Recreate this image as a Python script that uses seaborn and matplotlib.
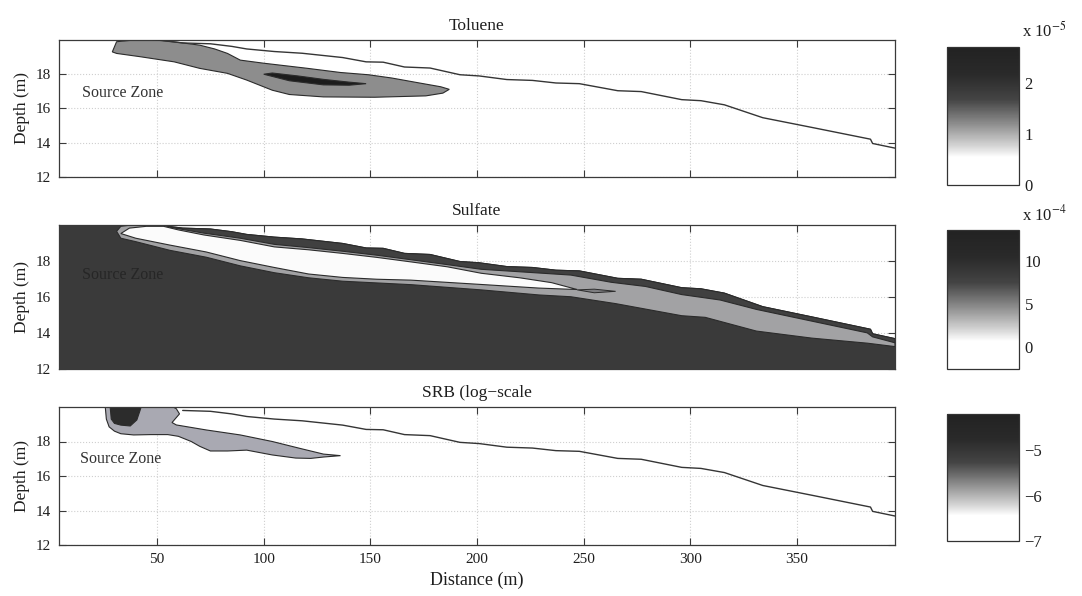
import numpy as np
import matplotlib
matplotlib.use("Agg")
import matplotlib.pyplot as plt
import seaborn as sns
from matplotlib.colors import LinearSegmentedColormap, Normalize
from matplotlib.cm import ScalarMappable

sns.set_theme(style="ticks")
plt.rcParams['font.family'] = ['Liberation Serif', 'DejaVu Serif']
plt.rcParams['mathtext.fontset'] = 'stix'

# ---------------- data (distance in m, depth in m) ----------------
panel_titles = ["Toluene", "Sulfate", "SRB (log\u2212scale"]
x_ticks = [50, 100, 150, 200, 250, 300, 350]
y_ticks = [12, 14, 16, 18]

# water table line
wt_x = [48, 55, 62, 75, 85, 92, 105, 118, 137, 148, 156, 166, 178, 192, 201, 214, 226,
        237, 248, 266, 277, 296, 305, 316, 334, 358, 384.5, 385.5, 396]
wt_d = [20.0, 19.9, 19.8, 19.75, 19.6, 19.45, 19.3, 19.2, 18.95, 18.7, 18.68, 18.4, 18.34,
        17.95, 17.88, 17.67, 17.62, 17.47, 17.43, 17.02, 16.97, 16.5, 16.44, 16.2, 15.45,
        14.86, 14.2, 13.95, 13.68]

# Toluene plume (outer contour) : upper and lower edges
tol_top_x = [29, 31, 40, 52, 62, 70, 77, 83, 89, 100, 120, 136, 149, 160, 173, 183, 187]
tol_top_d = [19.28, 19.87, 19.98, 19.95, 19.8, 19.67, 19.45, 19.19, 18.8, 18.62, 18.33,
             18.08, 17.95, 17.76, 17.47, 17.25, 17.1]
tol_bot_x = [29, 31, 42, 58, 70, 83, 92, 104, 112, 128, 152, 176, 184, 187]
tol_bot_d = [19.28, 19.19, 19.0, 18.7, 18.32, 18.03, 17.64, 17.05, 16.8, 16.66, 16.64,
             16.72, 16.88, 17.1]
# Toluene core
tolc_top_x = [100, 104, 116, 128, 140, 148]
tolc_top_d = [17.98, 18.05, 17.88, 17.68, 17.52, 17.43]
tolc_bot_x = [100, 112, 128, 140, 148]
tolc_bot_d = [17.98, 17.6, 17.36, 17.34, 17.43]

# Sulfate: light-gray band lower edge
sg_bot_x = [31, 33, 40, 56, 73, 89, 105, 121, 137, 169, 202, 229, 244, 265, 296, 307,
            331, 357, 383, 396]
sg_bot_d = [19.62, 19.24, 19.05, 18.57, 18.19, 17.71, 17.33, 17.05, 16.86, 16.67, 16.38,
            16.1, 16.0, 15.62, 14.95, 14.86, 14.1, 13.71, 13.43, 13.24]
# Sulfate: dark band below the water table (lower edge)
sb_bot_x = [56, 72, 89, 105, 121, 137, 153, 169, 186, 202, 227, 244, 263, 279, 296, 314,
            331, 357, 383, 385.5, 396]
sb_bot_d = [19.85, 19.52, 19.24, 18.9, 18.72, 18.52, 18.3, 18.05, 17.78, 17.52, 17.33,
            17.2, 16.8, 16.57, 16.12, 15.82, 15.3, 14.65, 14.0, 13.78, 13.45]
# Sulfate: depleted (white) zone
sw_top_x = [33, 37, 45, 53, 60, 72, 89, 105, 121, 137, 153, 169, 186, 202, 220, 235, 247]
sw_top_d = [19.5, 19.8, 19.9, 19.9, 19.7, 19.42, 19.12, 18.76, 18.6, 18.4, 18.18, 17.93,
            17.66, 17.3, 17.05, 16.78, 16.4]
sw_bot_x = [33, 40, 56, 73, 89, 105, 121, 137, 153, 169, 202, 229, 247]
sw_bot_d = [19.5, 19.24, 18.86, 18.48, 18.0, 17.62, 17.26, 17.07, 16.97, 16.92, 16.68,
            16.48, 16.4]
# small sliver at the tip
ss_x = [247, 255, 265, 255, 247]
ss_d = [16.38, 16.42, 16.3, 16.22, 16.38]

# SRB plume outer contour (closed outline)
srb_x = [25.7, 26.2, 27.5, 30, 33, 39, 47, 55, 60, 66, 70, 75, 83, 92, 104, 115, 122, 128,
         136, 128, 122, 117, 104, 89, 73, 59, 57, 60.5, 59, 57.5]
srb_d = [20.0, 19.3, 18.85, 18.6, 18.45, 18.38, 18.4, 18.4, 18.3, 18.0, 17.72, 17.45,
         17.45, 17.5, 17.22, 17.04, 17.02, 17.1, 17.18, 17.27, 17.45, 17.6, 18.0, 18.38,
         18.67, 18.96, 19.1, 19.6, 19.9, 20.0]
# SRB core
srbc_x = [28, 28.5, 30, 33, 37.4, 40.5, 42, 42.5]
srbc_d = [20.0, 19.3, 19.05, 18.95, 18.9, 19.25, 19.8, 20.0]

# colorbar ranges and ticks
cb_ranges = [(0, 2.7), (-2.5, 13.6), (-7, -4.2)]
cb_ticks = [[0, 1, 2], [0, 5, 10], [-7, -6, -5]]
cb_mult = [r"x 10$^{-5}$", r"x 10$^{-4}$", None]

src_label = "Source Zone"
src_pos = [(15, 16.9), (15, 17.2), (14, 17.0)]

# ---------------- styling ----------------
XLIM = (4, 396)
YLIM = (12, 20)
EDGE = '#2b2b2b'
TXT = '#1e1e1e'

fig = plt.figure(figsize=(10.82, 5.96), dpi=100)
W, H = 1082.0, 596.0
def rect(l, t, r, b):
    return [l / W, 1 - b / H, (r - l) / W, (b - t) / H]

ax_rects = [rect(59, 39.5, 895, 177), rect(59, 224.5, 895, 369), rect(59, 407, 895, 545)]
cb_rects = [rect(947, 47, 1019, 185), rect(947, 230, 1019, 369), rect(947, 414, 1019, 541)]

cmap = LinearSegmentedColormap.from_list(
    "scan", [(0, '#ffffff'), (0.2, '#ffffff'), (0.28, '#d6d6d6'), (0.45, '#8a8a8a'),
             (0.62, '#444444'), (0.8, '#2a2a2a'), (1.0, '#222222')])

def poly(ax, xs_top, ds_top, xs_bot, ds_bot, fc, lw=0.8):
    xs = list(xs_top) + list(xs_bot)[::-1]
    ds = list(ds_top) + list(ds_bot)[::-1]
    ax.fill(xs, ds, facecolor=fc, edgecolor=EDGE, linewidth=lw, zorder=2)

axes = []
for i, r in enumerate(ax_rects):
    ax = fig.add_axes(r)
    axes.append(ax)
    ax.set_xlim(*XLIM)
    ax.set_ylim(*YLIM)
    ax.set_xticks(x_ticks)
    ax.set_yticks(y_ticks)
    ax.grid(True, linestyle=':', color='#cfcfcf', linewidth=0.8)
    ax.set_axisbelow(True)
    ax.tick_params(direction='in', top=True, right=True, length=5, width=0.8,
                   labelsize=11, colors='#3a3a3a', labelcolor=TXT, pad=6)
    for s in ax.spines.values():
        s.set_color('#3a3a3a')
        s.set_linewidth(0.9)
    ax.set_title(panel_titles[i], fontsize=12.5, color=TXT, pad=7)
    ax.set_ylabel("Depth (m)", fontsize=12.5, color=TXT, labelpad=4)
    if i < 2:
        ax.tick_params(labelbottom=False)

# --- Toluene ---
ax = axes[0]
poly(ax, tol_top_x, tol_top_d, tol_bot_x, tol_bot_d, '#8d8d8d')
poly(ax, tolc_top_x, tolc_top_d, tolc_bot_x, tolc_bot_d, '#1c1c1c')
sns.lineplot(x=wt_x, y=wt_d, ax=ax, color='#353535', linewidth=1.0, sort=False,
             estimator=None, zorder=3)

# --- Sulfate ---
ax = axes[1]
bg_x = [XLIM[0], wt_x[0]] + wt_x + [XLIM[1], XLIM[0]]
bg_d = [20.0, 20.0] + wt_d + [YLIM[0], YLIM[0]]
ax.fill(bg_x, bg_d, facecolor='#3a3a3a', edgecolor='none', zorder=1.5)
g_top_x = [31, 33, 40] + wt_x
g_top_d = [19.62, 19.9, 20.0] + wt_d
poly(ax, g_top_x, g_top_d, sg_bot_x, sg_bot_d, '#a2a2a4')
wt_sub_x = [x for x in wt_x if x >= 55]
wt_sub_d = [d for x, d in zip(wt_x, wt_d) if x >= 55]
poly(ax, wt_sub_x, wt_sub_d, sb_bot_x, sb_bot_d, '#404040')
poly(ax, sw_top_x, sw_top_d, sw_bot_x, sw_bot_d, '#fbfbfb')
ax.fill(ss_x, ss_d, facecolor='#7d7d80', edgecolor=EDGE, linewidth=0.7, zorder=2)

# --- SRB ---
ax = axes[2]
ax.fill(srb_x, srb_d, facecolor='#a9a9b2', edgecolor=EDGE, linewidth=0.8, zorder=2)
ax.fill(srbc_x, srbc_d, facecolor='#2c2c2c', edgecolor=EDGE, linewidth=0.8, zorder=2)
sns.lineplot(x=wt_x[2:], y=wt_d[2:], ax=ax, color='#353535', linewidth=1.0, sort=False,
             estimator=None, zorder=3)
ax.set_xlabel("Distance (m)", fontsize=13, color=TXT, labelpad=4)

for i, ax in enumerate(axes):
    col = '#262626' if i == 1 else '#333333'
    ax.text(src_pos[i][0], src_pos[i][1], src_label, fontsize=11.5, color=col,
            va='center', ha='left', zorder=4)

# --- colorbars ---
for i, r in enumerate(cb_rects):
    cax = fig.add_axes(r)
    sm = ScalarMappable(norm=Normalize(*cb_ranges[i]), cmap=cmap)
    cb = fig.colorbar(sm, cax=cax)
    cb.set_ticks(cb_ticks[i])
    cb.ax.tick_params(length=0, labelsize=12, labelcolor=TXT, pad=4)
    cb.outline.set_edgecolor('#333333')
    cb.outline.set_linewidth(0.9)
    if cb_mult[i]:
        t = r[1] + r[3]
        fig.text(1022 / W, t + 0.01, cb_mult[i], fontsize=12, color=TXT,
                 ha='left', va='bottom')

fig.savefig("out.png", dpi=100)
